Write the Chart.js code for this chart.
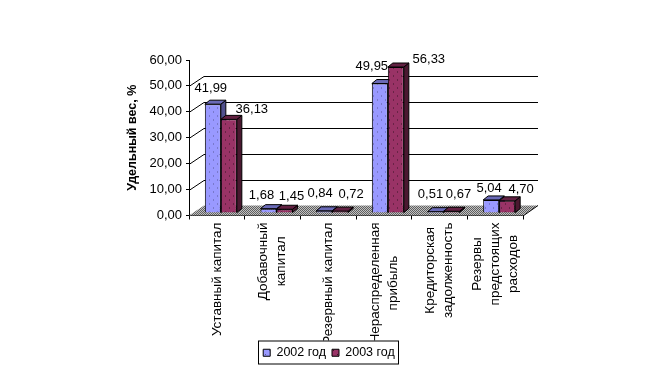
<!DOCTYPE html>
<html><head><meta charset="utf-8">
<style>html,body{margin:0;padding:0;background:#fff}canvas{display:block}</style>
<script src="https://cdn.jsdelivr.net/npm/chart.js@4/dist/chart.umd.min.js"></script>
</head><body>
<div style="width:660px;height:382px"><canvas id="c" width="660" height="382"></canvas></div>
<script>
const categories = [["Уставный капитал"],["Добавочный","капитал"],["Резервный капитал"],["Нераспределенная","прибыль"],["Кредиторская","задолженность"],["Резервы","предстоящих","расходов"]];
const series2002 = [41.99,1.68,0.84,49.95,0.51,5.04];
const series2003 = [36.13,1.45,0.72,56.33,0.67,4.70];
const yTicks = [0,10,20,30,40,50,60];
const labelOffsets = [
 [[-2,-16],[-7,-13],[-4,-17],[-8,-17],[-5,-17],[-2,-12]],
 [[23,-10],[7,-13],[11,-17],[33,-8],[7,-17],[14,-11]]
];
const FONT = '"Liberation Sans", Arial, sans-serif';
const XSIZE=13.5, XLH=1.33;
const DX=15, DY=-10, BX=4, BY=-2.5, SX=5, SY=-4;
function pat(bg,fg,fn){const c=document.createElement('canvas');c.width=c.height=8;const x=c.getContext('2d');
 x.fillStyle=bg;x.fillRect(0,0,8,8);x.fillStyle=fg;fn(x);return x.createPattern(c,'repeat');}
const dots=(x)=>{x.fillRect(1,2,1,1);x.fillRect(5,6,1,1);};
const checker=(x)=>{for(let i=0;i<8;i++)for(let j=0;j<8;j++)if((i+j)%2==0)x.fillRect(i,j,1,1);};
const front=[pat('#9999ff','#5a5a99',dots),pat('#993366','#3a1426',dots)];
const top_=[pat('#9999ff','#3c3c70',checker),pat('#993366','#2c0f1e',checker)];
const side=[pat('#8080d8','#222244',checker),pat('#7a2850','#1a0810',checker)];
const floorP=pat('#c0c0c0','#606060',checker);
function sides(ch,i){const {ctx}=ch;
  ch.getDatasetMeta(i).data.forEach(e=>{const p=e.getProps(['x','y','width','base'],true);const L=p.x-p.width/2,R=p.x+p.width/2,T=p.y,B=p.base;
   ctx.strokeStyle='#000';ctx.lineWidth=1;
   ctx.fillStyle=side[i];ctx.beginPath();ctx.moveTo(R,T);ctx.lineTo(R+SX,T+SY);ctx.lineTo(R+SX,B+SY);ctx.lineTo(R,B);ctx.closePath();ctx.fill();ctx.stroke();
   ctx.fillStyle=top_[i];ctx.beginPath();ctx.moveTo(L,T);ctx.lineTo(L+SX,T+SY);ctx.lineTo(R+SX,T+SY);ctx.lineTo(R,T);ctx.closePath();ctx.fill();ctx.stroke();
  });}
const wall={id:'wall',
 afterLayout(ch){const g=ch.legend;const c=(g.left+g.right)/2;g.left+=329-c;g.right+=329-c;},
 beforeDatasetsDraw(ch){const {ctx,scales:{x,y}}=ch;const l=x.left,r=x.right,b=y.getPixelForValue(0);
  ctx.save();ctx.fillStyle=floorP;ctx.beginPath();ctx.moveTo(l,b);ctx.lineTo(l+DX,b+DY);ctx.lineTo(r+DX,b+DY);ctx.lineTo(r,b);ctx.closePath();ctx.fill();
  ctx.strokeStyle='#000';ctx.lineWidth=1;
  yTicks.filter(v=>v>0&&v<60).forEach(v=>{const p=Math.round(y.getPixelForValue(v))+.5;
   ctx.beginPath();ctx.moveTo(l,p);ctx.lineTo(l+DX,p+DY);ctx.lineTo(r+DX,p+DY);ctx.stroke();});
  ctx.beginPath();ctx.moveTo(r,b+.5);ctx.lineTo(r+DX,b+DY);ctx.stroke();
  ctx.restore();},
 beforeDatasetDraw(ch,a){if(a.index===1)return false;ch.ctx.save();ch.ctx.translate(BX,BY);sides(ch,0);},
 afterDatasetDraw(ch){sides(ch,1);ch.getDatasetMeta(1).controller.draw();ch.ctx.restore();},
 afterDatasetsDraw(ch){const {ctx}=ch;ctx.save();ctx.font='13px '+FONT;ctx.fillStyle='#000';ctx.textAlign='center';ctx.textBaseline='middle';
  [series2002,series2003].forEach((s,i)=>ch.getDatasetMeta(i).data.forEach((e,j)=>{const o=labelOffsets[i][j];
   ctx.fillText(s[j].toFixed(2).replace('.',','),e.x+BX+o[0],e.y+BY+o[1]);}));ctx.restore();},
 beforeDraw(ch){const sc=ch.scales.x;const items=sc.getLabelItems();const ctx=ch.ctx;ctx.save();ctx.font=XSIZE+'px '+FONT;const lh=XSIZE*XLH;
  items.forEach(it=>{if(it._c)return;it._c=1;const ls=[].concat(it.label);const w=Math.max(...ls.map(t=>ctx.measureText(t).width));
   it.textOffset=lh/2-(ls.length-1)*lh/2;
   it.options.textAlign='center';
   it.options.translation=[it.options.translation[0],it.options.translation[1]+w/2];});ctx.restore();},
 afterDraw(ch){const {ctx,legend:g}=ch;ctx.save();ctx.strokeStyle='#000';ctx.lineWidth=1;
  ctx.strokeRect(258.5,g.top+.5,140,23);ctx.restore();}
};
new Chart(document.getElementById('c'),{type:'bar',
 data:{labels:categories,datasets:[
  {label:'2002 год',data:series2002,backgroundColor:front[0],borderColor:'#000',borderWidth:1,clip:false},
  {label:'2003 год',data:series2003,backgroundColor:front[1],borderColor:'#000',borderWidth:1,clip:false}]},
 options:{responsive:false,animation:false,events:[],
  layout:{padding:{left:125,right:137,top:60,bottom:13}},
  datasets:{bar:{categoryPercentage:0.575,barPercentage:1}},
  plugins:{tooltip:{enabled:false},
   legend:{position:'bottom',labels:{boxWidth:7,boxHeight:7,padding:6,color:'#000',font:{family:FONT,size:12.5}}}},
  scales:{
   x:{afterFit(s){s.height=125;},grid:{drawOnChartArea:false,drawTicks:true,tickLength:4,color:'#000'},border:{color:'#000'},
    ticks:{autoSkip:false,minRotation:90,maxRotation:90,padding:3,color:'#000',font:{family:FONT,size:XSIZE,lineHeight:XLH}}},
   y:{min:0,max:60,afterFit(s){s.width=64;},grid:{drawOnChartArea:false,drawTicks:true,tickLength:3,color:'#000'},border:{color:'#000'},
    afterBuildTicks(s){s.ticks=yTicks.map(v=>({value:v}));},
    ticks:{padding:4,color:'#000',font:{family:FONT,size:13},callback:v=>v.toFixed(2).replace('.',',')},
    title:{display:true,text:'Удельный вес, %',color:'#000',font:{family:FONT,size:12.5,weight:'bold'},padding:0}}
  }}
 ,plugins:[wall]});
</script></body></html>
